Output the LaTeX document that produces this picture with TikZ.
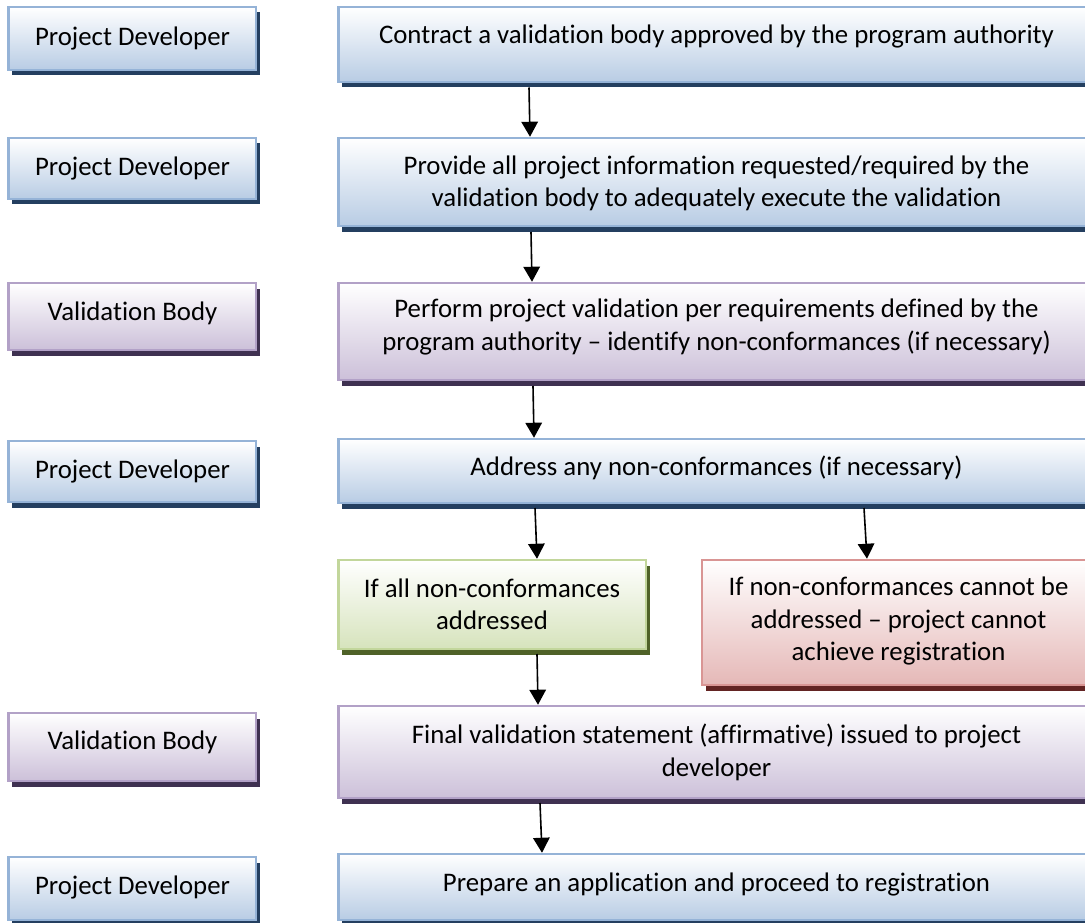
\documentclass[tikz,border=0pt]{standalone}
\usepackage{fontspec}
\setmainfont{Carlito}[Ligatures={NoCommon}]
\usetikzlibrary{arrows.meta,shadows}
\definecolor{bluebd}{HTML}{95B3D7}
\definecolor{bluefl}{HTML}{B8CCE4}
\definecolor{bluesh}{HTML}{243F60}
\definecolor{purpbd}{HTML}{B2A1C7}
\definecolor{purpfl}{HTML}{CCC0D9}
\definecolor{purpsh}{HTML}{3F3151}
\definecolor{grnbd}{HTML}{C2D69B}
\definecolor{grnfl}{HTML}{D6E3BC}
\definecolor{grnsh}{HTML}{4F6228}
\definecolor{redbd}{HTML}{D99594}
\definecolor{redfl}{HTML}{E5B8B7}
\definecolor{redsh}{HTML}{632423}
\tikzset{
  box/.style={rectangle, inner sep=0pt, line width=2.5pt, draw=#1bd,
    top color=white, bottom color=#1fl,
    drop shadow={shadow xshift=3.5pt, shadow yshift=-5.5pt, fill=#1sh, opacity=1}},
  txt/.style={inner sep=0pt, align=center, font=\fontsize{26.8}{32.4}\selectfont},
  arr/.style={line width=1.6pt, -{Triangle[length=15pt,width=16.5pt]}},
}
\begin{document}
\begin{tikzpicture}[x=1pt,y=-1pt]
\useasboundingbox (0,0) rectangle (1085,923);
\fill[white] (0,0) rectangle (1085,923);
\clip (0,0) rectangle (1085,923);
% left role boxes
\node[box=blue, minimum width=247.5pt, minimum height=63pt] (L1) at (132.25,38.5) {};
\node[box=blue, minimum width=247.5pt, minimum height=61pt] (L2) at (132.25,168.5) {};
\node[box=purp, minimum width=247.5pt, minimum height=67pt] (L3) at (132.25,316.5) {};
\node[box=blue, minimum width=247.5pt, minimum height=61pt] (L4) at (132.25,471.5) {};
\node[box=purp, minimum width=247.5pt, minimum height=68pt] (L6) at (132.25,747) {};
\node[box=blue, minimum width=247.5pt, minimum height=63pt] (L7) at (132.25,888.5) {};
% right step boxes
\node[box=blue, minimum width=756.5pt, minimum height=75pt] (R1) at (716.75,44.5) {};
\node[box=blue, minimum width=756.5pt, minimum height=88pt] (R2) at (716.75,182) {};
\node[box=purp, minimum width=756.5pt, minimum height=97pt] (R3) at (716.75,331.5) {};
\node[box=blue, minimum width=756.5pt, minimum height=64pt] (R4) at (716.75,471) {};
\node[box=grn, minimum width=307.5pt, minimum height=89pt] (G) at (492.25,604.5) {};
\node[box=red, minimum width=393pt, minimum height=125pt] (X) at (898.5,622.5) {};
\node[box=purp, minimum width=756.5pt, minimum height=92pt] (R6) at (716.75,752) {};
\node[box=blue, minimum width=756.5pt, minimum height=66pt] (R7) at (716.75,887) {};
% texts
\node[txt] (tL1) at (132.5,38) {Project Developer};
\node[txt] (tL2) at (132.5,168) {Project Developer};
\node[txt] (tL3) at (132.5,313) {Validation Body};
\node[txt] (tL4) at (132.5,471.5) {Project Developer};
\node[txt] (tL6) at (132.5,742.5) {Validation Body};
\node[txt] (tL7) at (132.5,887) {Project Developer};
\node[txt] (tR1) at (716.5,37) {Contract a validation body approved by the program authority};
\node[txt] (tR2) at (716.5,183.5) {Provide all project information requested/required by the\\validation body to adequately execute the validation};
\node[txt] (tR3) at (716.5,327) {Perform project validation per requirements defined by the\\program authority – identify non-conformances (if necessary)};
\node[txt] (tR4) at (716.5,468) {Address any non-conformances (if necessary)};
\node[txt] (tG) at (492,604.5) {If all non-conformances\\addressed};
\node[txt] (tX) at (898.5,621) {If non-conformances cannot be\\addressed – project cannot\\achieve registration};
\node[txt] (tR6) at (716.5,752.5) {Final validation statement (affirmative) issued to project\\developer};
\node[txt] (tR7) at (716.5,884) {Prepare an application and proceed to registration};
% arrows
\draw[arr] ([xshift=-187.75pt,yshift=-4.25pt]R1.south) -- ([xshift=-186.75pt]R2.north);
\draw[arr] ([xshift=-185.75pt,yshift=-4.75pt]R2.south) -- ([xshift=-184.75pt]R3.north);
\draw[arr] ([xshift=-183.75pt,yshift=-4.75pt]R3.south) -- ([xshift=-182.75pt]R4.north);
\draw[arr] ([xshift=-181.75pt,yshift=-3.75pt]R4.south) -- ([xshift=44.75pt]G.north);
\draw[arr] ([xshift=147.25pt,yshift=-3.75pt]R4.south) -- ([xshift=-31.5pt]X.north);
\draw[arr] ([xshift=44.75pt,yshift=-3.75pt]G.south) -- ([xshift=-178.75pt]R6.north);
\draw[arr] ([xshift=-176.75pt,yshift=-3.75pt]R6.south) -- ([xshift=-174.75pt]R7.north);
\end{tikzpicture}
\end{document}
